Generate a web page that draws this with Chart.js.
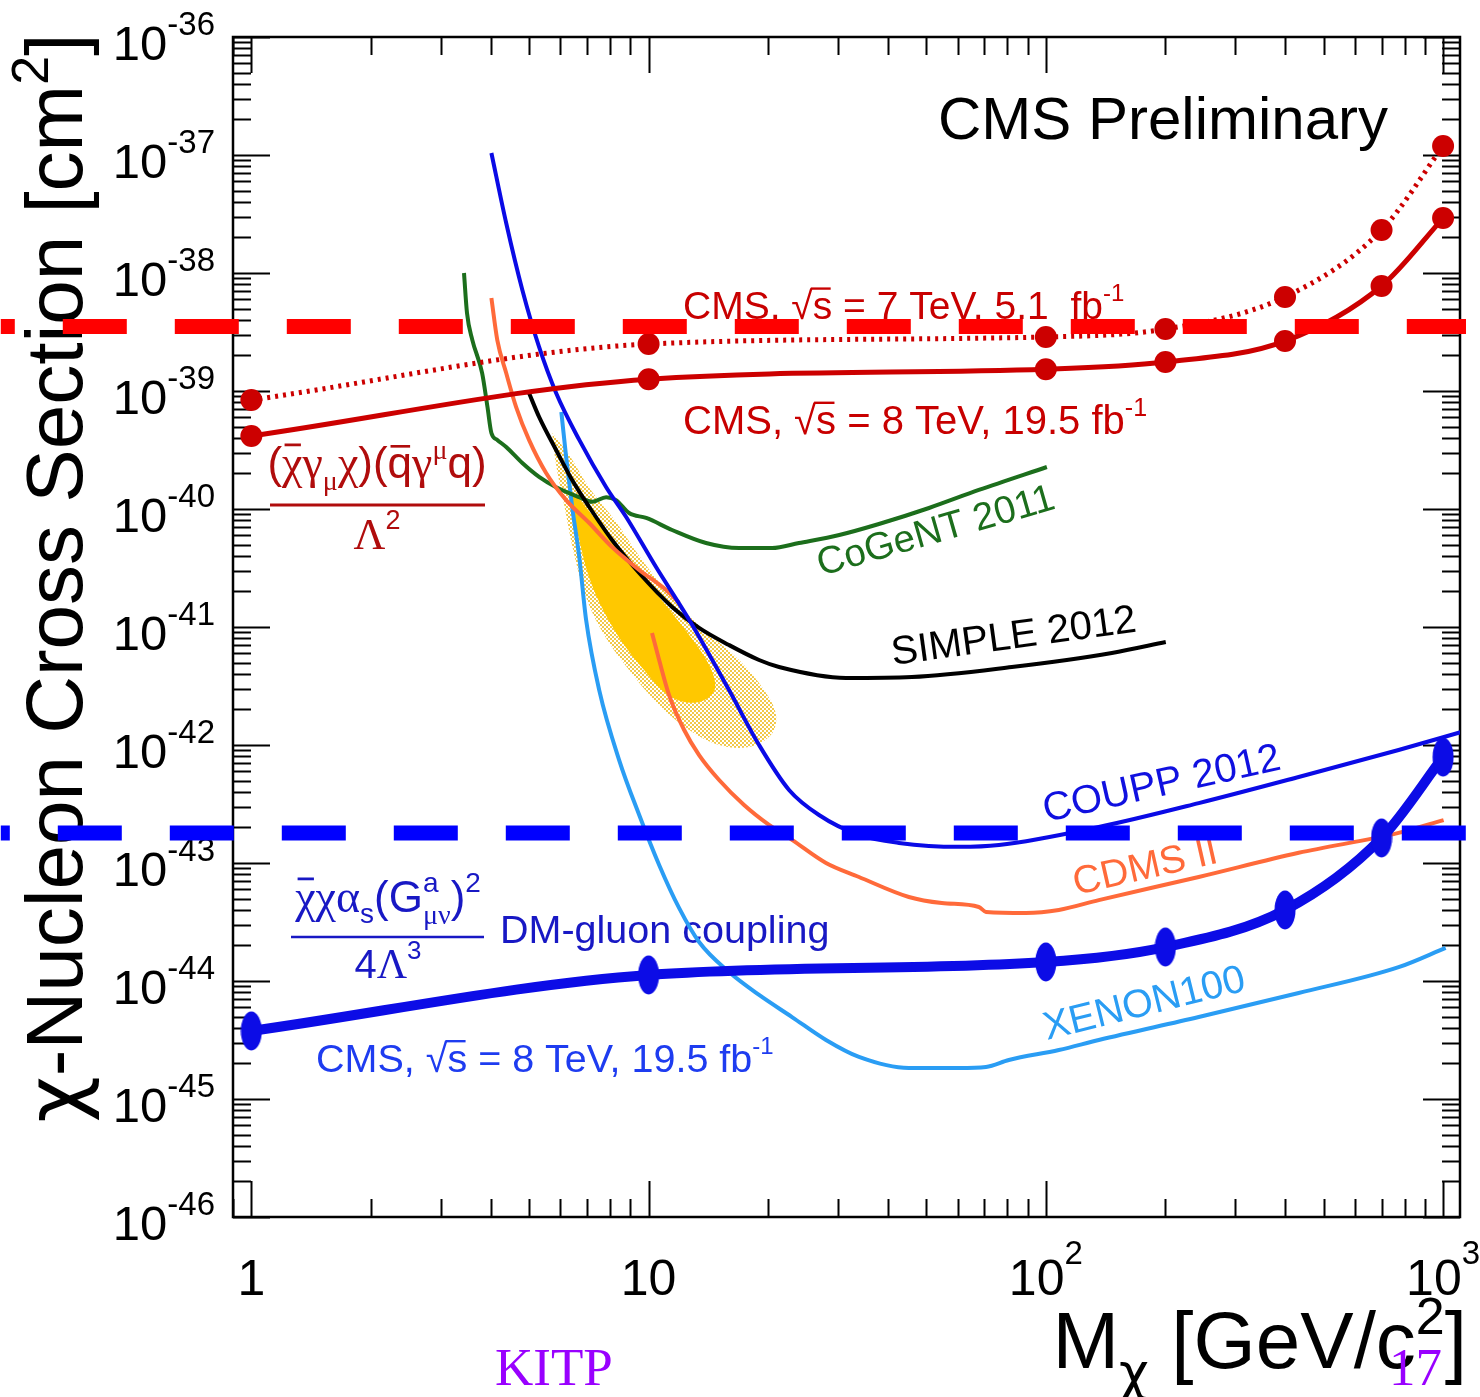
<!DOCTYPE html>
<html>
<head>
<meta charset="utf-8">
<script src="https://cdn.jsdelivr.net/npm/chart.js@4.4.1/dist/chart.umd.min.js"></script>
<style>
  html, body { margin: 0; padding: 0; background: #ffffff; }
  #wrap { width: 1480px; height: 1397px; position: relative; }
  canvas { display: block; }
</style>
</head>
<body>
<div id="wrap"><canvas id="c" width="1480" height="1397"></canvas></div>
<script>
// ---------------- DATA (mass in GeV/c^2, cross section in cm^2) ----------------
const cmsMass = [1, 10, 100, 200, 400, 700, 1000];
const cms8VectorSigma = [4.16e-40, 1.26e-39, 1.53e-39, 1.76e-39, 2.65e-39, 7.76e-39, 2.92e-38];
const cms7VectorSigma = [8.4e-40, 2.5e-39, 2.87e-39, 3.35e-39, 6.27e-39, 2.31e-38, 1.19e-37];
const cms8GluonSigma = [3.77e-45, 1.125e-44, 1.45e-44, 1.94e-44, 4.0e-44, 1.63e-43, 7.9e-43];

const couppMass = [4.02, 4.38, 4.81, 5.30, 5.85, 6.69, 7.82, 8.78, 10.44, 12.65, 15.94, 18.97, 22.57, 26.85, 33.85, 42.68, 60.4, 76.2, 135.9, 242.6, 433, 772.7, 1113];
const couppSigma = [1.04e-37, 2.65e-38, 7.18e-39, 2.36e-39, 9.62e-40, 3.85e-40, 1.53e-40, 8.55e-41, 3.22e-41, 1.15e-41, 2.92e-42, 1.0e-42, 4.16e-43, 2.55e-43, 1.73e-43, 1.48e-43, 1.37e-43, 1.42e-43, 2.02e-43, 3.22e-43, 5.36e-43, 9.08e-43, 1.29e-42];

const cogentMass = [3.43, 3.49, 3.60, 3.81, 3.93, 4.02, 4.16, 4.38, 4.81, 5.30, 5.85, 6.69, 7.21, 7.82, 8.28, 8.93, 9.86, 11.46, 13.95, 16.9, 20.45, 23.9, 30.2, 38.0, 50.8, 67.8, 100.6];
const cogentSigma = [1.0e-38, 4.58e-39, 2.70e-39, 1.42e-39, 7.31e-40, 4.41e-40, 3.85e-40, 3.35e-40, 2.45e-40, 1.87e-40, 1.53e-40, 1.26e-40, 1.15e-40, 1.26e-40, 1.19e-40, 9.25e-41, 8.39e-41, 6.64e-41, 5.15e-41, 4.67e-41, 4.67e-41, 5.15e-41, 6.02e-41, 7.46e-41, 1.02e-40, 1.45e-40, 2.27e-40];

const cdmsUpperMass = [4.02, 4.16, 4.38, 4.64, 5.00, 5.52, 6.20, 7.09, 8.09, 9.47, 11.07, 11.93];
const cdmsUpperSigma = [6.14e-39, 2.70e-39, 1.42e-39, 7.31e-40, 3.85e-40, 2.02e-40, 1.19e-40, 7.61e-41, 4.76e-41, 3.04e-41, 2.06e-41, 1.60e-41];
const cdmsLowerMass = [10.2, 10.63, 11.26, 12.29, 13.40, 15.05, 17.39, 20.10, 22.96, 27.96, 33.85, 45.2, 54.7, 67.8, 70.7, 89.1, 107.8, 135.9, 242.6, 433, 772.7, 1003];
const cdmsLowerSigma = [8.89e-42, 5.25e-42, 2.65e-42, 1.34e-42, 8.22e-43, 5.05e-43, 3.10e-43, 2.10e-43, 1.57e-43, 1.0e-43, 7.61e-44, 5.15e-44, 4.58e-44, 4.24e-44, 3.85e-44, 3.77e-44, 4.0e-44, 4.85e-44, 7.61e-44, 1.22e-43, 1.80e-43, 2.31e-43];

const simpleMass = [5.00, 5.30, 5.85, 6.42, 7.09, 8.09, 9.47, 11.46, 13.40, 15.94, 18.97, 21.3, 31.4, 46.0, 82.1, 146.6, 200.4];
const simpleSigma = [9.62e-40, 6.03e-40, 3.16e-40, 1.76e-40, 1.04e-40, 5.46e-41, 2.87e-41, 1.48e-41, 9.82e-42, 7.03e-42, 5.25e-42, 4.58e-42, 3.70e-42, 3.77e-42, 4.58e-42, 6.03e-42, 7.46e-42];

const xenonMass = [6.03, 6.20, 6.42, 6.69, 6.96, 7.51, 8.43, 9.47, 10.63, 11.93, 13.40, 15.94, 18.97, 22.96, 27.96, 33.85, 45.2, 60.4, 70.7, 80.7, 107.8, 135.9, 242.6, 433, 772.7, 1015];
const xenonSigma = [6.64e-40, 2.76e-40, 1.04e-40, 3.92e-41, 1.15e-41, 2.92e-42, 7.46e-43, 2.55e-43, 9.62e-44, 4.16e-44, 2.14e-44, 1.19e-44, 7.61e-45, 4.95e-45, 3.16e-45, 2.27e-45, 1.83e-45, 1.83e-45, 1.87e-45, 2.14e-45, 2.60e-45, 3.16e-45, 4.95e-45, 7.91e-45, 1.31e-44, 1.91e-44];

const regionOuterMass = [5.72, 6.31, 7.09, 8.28, 9.47, 11.46, 13.79, 16.9, 19.53, 20.93, 20.33, 17.89, 15.05, 12.65, 10.63, 8.93, 7.73, 7.00, 6.50, 6.13, 5.85, 5.72];
const regionOuterSigma = [4.41e-40, 2.87e-40, 1.51e-40, 7.76e-41, 4.0e-41, 1.76e-41, 9.44e-42, 5.25e-42, 2.92e-42, 1.80e-42, 1.22e-42, 9.62e-43, 1.0e-42, 1.34e-42, 2.18e-42, 4.32e-42, 8.55e-42, 1.69e-41, 4.07e-41, 1.08e-40, 2.36e-40, 4.41e-40];
const regionInnerMass = [6.38, 6.88, 7.73, 8.93, 10.63, 12.65, 14.2, 14.7, 13.79, 12.29, 10.94, 9.74, 8.68, 7.73, 7.09, 6.69, 6.46, 6.38];
const regionInnerSigma = [1.45e-40, 1.08e-40, 6.64e-41, 3.70e-41, 1.80e-41, 8.55e-42, 4.76e-42, 3.04e-42, 2.40e-42, 2.31e-42, 2.81e-42, 4.32e-42, 7.03e-42, 1.34e-41, 2.60e-41, 5.46e-41, 9.82e-41, 1.45e-40];

const guideMass = [0.234, 1142];
const vectorGuideSigma = 3.52e-39;
const gluonGuideSigma = 1.8e-43;

// axis ranges and tick labels
const xMin = 0.899, xMax = 1103;
const yMin = 1e-46, yMax = 1e-36;
const xTickValues = [1, 10, 100, 1000];
const xTickBase = ['1', '10', '10', '10'];
const xTickExp = ['', '', '2', '3'];
const yTickExps = [-36, -37, -38, -39, -40, -41, -42, -43, -44, -45, -46];

// ---------------- helpers ----------------
const SANS = '"Liberation Sans", Arial, Helvetica, sans-serif';
const SERIF = '"Liberation Serif", "Times New Roman", serif';
const GREEK = '"DejaVu Sans", "Liberation Sans", sans-serif';
function pts(xs, ys) { return xs.map((x, i) => ({ x: x, y: ys[i] })); }
function fontOf(p) {
  const fam = p.serif ? SERIF : (p.greek ? GREEK : SANS);
  return (p.italic ? 'italic ' : '') + p.size + 'px ' + fam;
}
function rich(ctx, parts, x, y, align, color) {
  let w = 0;
  const m = parts.map(p => {
    ctx.font = fontOf(p);
    const mw = ctx.measureText(p.t).width;
    const adv = p.noAdv ? 0 : mw;
    w += adv;
    return { p, mw, adv };
  });
  let cx = align === 'center' ? x - w / 2 : (align === 'right' ? x - w : x);
  ctx.textAlign = 'left';
  ctx.textBaseline = 'alphabetic';
  for (const it of m) {
    const p = it.p;
    ctx.font = fontOf(p);
    ctx.fillStyle = p.color || color;
    ctx.fillText(p.t, cx, y + (p.dy || 0));
    if (p.bar) {
      ctx.strokeStyle = p.color || color;
      ctx.lineWidth = Math.max(1.5, p.size * 0.06);
      const by = y + (p.dy || 0) - p.size * (p.barH || 0.74);
      ctx.beginPath();
      ctx.moveTo(cx + it.mw * (p.barL !== undefined ? p.barL : 0.12), by);
      ctx.lineTo(cx + it.mw * 0.92, by);
      ctx.stroke();
    }
    cx += it.adv;
  }
  return w;
}
function cmsLabel(energy, lumi, size) {
  return [
    { t: 'CMS, ', size: size },
    { t: '\u221A', size: size },
    { t: 's', size: size, bar: true, barL: -0.1, barH: 0.78 },
    { t: ' = ' + energy + ' TeV, ' + lumi + ' fb', size: size },
    { t: '-1', size: Math.round(size * 0.62), dy: -Math.round(size * 0.45) }
  ];
}

// pattern for hatched region
const patCanvas = document.createElement('canvas');
patCanvas.width = 4; patCanvas.height = 4;
(function () {
  const p = patCanvas.getContext('2d');
  p.fillStyle = 'rgba(240,190,40,0.85)';
  p.fillRect(0, 0, 2, 2);
  p.fillRect(2, 2, 2, 2);
})();
const hatch = patCanvas.getContext('2d').createPattern(patCanvas, 'repeat');

// elliptic marker for gluon points
const ellipseMarker = document.createElement('canvas');
ellipseMarker.width = 22; ellipseMarker.height = 40;
(function () {
  const e = ellipseMarker.getContext('2d');
  e.fillStyle = '#0c0ce6';
  e.beginPath();
  e.ellipse(11, 20, 10.5, 19.5, 0, 0, Math.PI * 2);
  e.fill();
})();

// ---------------- plugins ----------------
const bgPlugin = {
  id: 'bg',
  beforeDraw(chart) {
    const ctx = chart.ctx;
    ctx.save();
    ctx.fillStyle = '#ffffff';
    ctx.fillRect(0, 0, chart.width, chart.height);
    ctx.restore();
  }
};

const framePlugin = {
  id: 'frame',
  beforeDatasetsDraw(chart) {
    const ctx = chart.ctx;
    const a = chart.chartArea;
    const xs = chart.scales.x, ys = chart.scales.y;
    ctx.save();
    // frame
    ctx.strokeStyle = '#000';
    ctx.lineWidth = 2.5;
    ctx.strokeRect(a.left, a.top, a.right - a.left, a.bottom - a.top);
    // ticks
    ctx.lineWidth = 2;
    ctx.beginPath();
    const lx0 = Math.log10(xMin), lx1 = Math.log10(xMax);
    for (let d = -1; d <= 3; d++) {
      for (let k = 1; k <= 9; k++) {
        const v = k * Math.pow(10, d);
        const lv = Math.log10(v);
        if (lv < lx0 - 1e-9 || lv > lx1 + 1e-9) continue;
        const px = Math.round(xs.getPixelForValue(v)) + 0.5;
        const len = k === 1 ? 36 : 18;
        ctx.moveTo(px, a.bottom); ctx.lineTo(px, a.bottom - len);
        ctx.moveTo(px, a.top); ctx.lineTo(px, a.top + len);
      }
    }
    for (let d = -46; d <= -36; d++) {
      for (let k = 1; k <= 9; k++) {
        if (d === -36 && k > 1) continue;
        const v = k * Math.pow(10, d);
        const py = Math.round(ys.getPixelForValue(v)) + 0.5;
        const len = k === 1 ? 37 : 18;
        ctx.moveTo(a.left, py); ctx.lineTo(a.left + len, py);
        ctx.moveTo(a.right, py); ctx.lineTo(a.right - len, py);
      }
    }
    ctx.stroke();

    // y tick labels
    yTickExps.forEach(e => {
      const py = ys.getPixelForValue(Math.pow(10, e));
      rich(ctx, [{ t: '10', size: 49 }, { t: String(e), size: 33, dy: -25 }], 215, py + 23, 'right', '#000');
    });
    // x tick labels
    xTickValues.forEach((v, i) => {
      const px = xs.getPixelForValue(v);
      const parts = [{ t: xTickBase[i], size: 50 }];
      if (xTickExp[i]) parts.push({ t: xTickExp[i], size: 33, dy: -31 });
      rich(ctx, parts, px, 1295, 'center', '#000');
    });

    // axis titles
    ctx.save();
    ctx.translate(82, 578);
    ctx.rotate(-Math.PI / 2);
    rich(ctx, [{ t: '\u03C7', size: 80, greek: true }, { t: '-Nucleon Cross Section [cm', size: 80 }, { t: '2', size: 52, dy: -34 }, { t: ']', size: 80 }], 0, 0, 'center', '#000');
    ctx.restore();
    rich(ctx, [{ t: 'M', size: 80 }, { t: '\u03C7', size: 52, dy: 22, greek: true }, { t: ' [GeV/c', size: 80 }, { t: '2', size: 52, dy: -34 }, { t: ']', size: 80 }], 1467, 1368, 'right', '#000');

    // annotations
    rich(ctx, [{ t: 'CMS Preliminary', size: 60 }], 938, 139, 'left', '#000');
    rich(ctx, cmsLabel('7', '5.1 ', 39), 683, 319, 'left', '#c80000');
    rich(ctx, cmsLabel('8', '19.5', 40), 683, 434, 'left', '#c80000');

    // vector operator formula
    const fr = '#b00c0c';
    rich(ctx, [
      { t: '(', size: 44 },
      { t: '\u03C7', size: 46, serif: true, bar: true, barH: 0.72 },
      { t: '\u03B3', size: 46, serif: true },
      { t: '\u03BC', size: 28, serif: true, dy: 12 },
      { t: '\u03C7', size: 46, serif: true },
      { t: ')(', size: 44 },
      { t: 'q', size: 44, bar: true, barH: 0.72 },
      { t: '\u03B3', size: 46, serif: true },
      { t: '\u03BC', size: 28, serif: true, dy: -19 },
      { t: 'q)', size: 44 }
    ], 377, 478, 'center', fr);
    ctx.strokeStyle = fr; ctx.lineWidth = 3;
    ctx.beginPath(); ctx.moveTo(270, 505); ctx.lineTo(485, 505); ctx.stroke();
    rich(ctx, [{ t: '\u039B', size: 44, serif: true }, { t: '2', size: 27, dy: -20 }], 377, 549, 'center', fr);

    // gluon operator formula
    const fb = '#1818c4';
    rich(ctx, [
      { t: '\u03C7', size: 46, serif: true, bar: true, barH: 0.72 },
      { t: '\u03C7', size: 46, serif: true },
      { t: '\u03B1', size: 46, serif: true },
      { t: 's', size: 28, dy: 11 },
      { t: '(G', size: 44 },
      { t: 'a', size: 28, dy: -20, noAdv: true },
      { t: '\u03BC\u03BD', size: 28, serif: true, dy: 12 },
      { t: ')', size: 44 },
      { t: '2', size: 28, dy: -20 }
    ], 388, 912, 'center', fb);
    ctx.strokeStyle = fb; ctx.lineWidth = 2.5;
    ctx.beginPath(); ctx.moveTo(291, 937); ctx.lineTo(484, 937); ctx.stroke();
    rich(ctx, [{ t: '4', size: 40 }, { t: '\u039B', size: 42, serif: true }, { t: '3', size: 26, dy: -19 }], 388, 978, 'center', fb);
    rich(ctx, [{ t: 'DM-gluon coupling', size: 39.5 }], 500, 943, 'left', fb);
    rich(ctx, cmsLabel('8', '19.5', 39.5), 316, 1072, 'left', '#1e3cf0');

    // rotated curve labels
    const rot = (txt, x, y, deg, col, size) => {
      ctx.save();
      ctx.translate(x, y);
      ctx.rotate(deg * Math.PI / 180);
      rich(ctx, [{ t: txt, size: size }], 0, 0, 'left', col);
      ctx.restore();
    };
    rot('CoGeNT 2011', 821, 576, -16, '#1c6e1c', 38.5);
    rot('SIMPLE 2012', 893, 665, -7.8, '#000000', 40);
    rot('COUPP 2012', 1046, 822, -12.6, '#1010e0', 40);
    rot('CDMS II', 1076, 895, -12.8, '#ff6a3a', 39);
    rot('XENON100', 1047, 1040, -14, '#2a9df4', 39.5);
    ctx.restore();
  },
  afterDraw(chart) {
    const ctx = chart.ctx;
    ctx.save();
    ctx.fillStyle = '#9900ff';
    ctx.font = '53px ' + SERIF;
    ctx.textBaseline = 'alphabetic';
    ctx.textAlign = 'left';
    ctx.fillText('KITP', 495, 1385);
    ctx.fillText('17', 1389, 1385);
    ctx.restore();
  }
};

// ---------------- chart ----------------
const curve = (data, color, width, extra) => Object.assign({
  data: data, showLine: true, borderColor: color, backgroundColor: color,
  borderWidth: width, pointRadius: 0, fill: false, cubicInterpolationMode: 'monotone'
}, extra || {});

const datasets = [
  { data: pts(guideMass, guideMass.map(() => vectorGuideSigma)), showLine: true, borderColor: '#ff0000', borderWidth: 15,
    borderDash: [64, 48], borderDashOffset: 50, pointRadius: 0, clip: false, tension: 0, fill: false },
  { data: pts(guideMass, guideMass.map(() => gluonGuideSigma)), showLine: true, borderColor: '#0000ff', borderWidth: 15,
    borderDash: [64, 48], borderDashOffset: 55, pointRadius: 0, clip: false, tension: 0, fill: false },
  curve(pts(cmsMass, cms7VectorSigma), '#cc0000', 5, { borderDash: [3, 5], pointRadius: 11, pointBackgroundColor: '#cc0000', pointBorderWidth: 0 }),
  curve(pts(cmsMass, cms8VectorSigma), '#cc0000', 5, { pointRadius: 11, pointBackgroundColor: '#cc0000', pointBorderWidth: 0 }),
  curve(pts(cmsMass, cms8GluonSigma), '#0c0ce6', 10, { pointRadius: 10, pointStyle: ellipseMarker }),
  curve(pts(couppMass, couppSigma), '#0a0ae6', 4),
  curve(pts(cdmsLowerMass, cdmsLowerSigma), '#ff6a3a', 4),
  curve(pts(cdmsUpperMass, cdmsUpperSigma), '#ff6a3a', 4),
  curve(pts(simpleMass, simpleSigma), '#000000', 4),
  curve(pts(cogentMass, cogentSigma), '#1c6e1c', 4),
  curve(pts(xenonMass, xenonSigma), '#2a9df4', 4),
  { data: pts(regionInnerMass, regionInnerSigma), showLine: true, borderWidth: 0, borderColor: 'rgba(0,0,0,0)',
    backgroundColor: '#ffc800', fill: 'shape', tension: 0.35, pointRadius: 0 },
  { data: pts(regionOuterMass, regionOuterSigma), showLine: true, borderWidth: 0, borderColor: 'rgba(0,0,0,0)',
    backgroundColor: hatch, fill: 'shape', tension: 0.35, pointRadius: 0 }
];

new Chart(document.getElementById('c'), {
  type: 'scatter',
  data: { datasets: datasets },
  options: {
    responsive: false,
    maintainAspectRatio: false,
    devicePixelRatio: 1,
    animation: false,
    events: [],
    layout: { padding: { left: 233, top: 37, right: 16, bottom: 180 } },
    plugins: { legend: { display: false }, tooltip: { enabled: false } },
    scales: {
      x: { type: 'logarithmic', min: xMin, max: xMax, display: false },
      y: { type: 'logarithmic', min: yMin, max: yMax, display: false }
    }
  },
  plugins: [bgPlugin, framePlugin]
});
</script>
</body>
</html>
